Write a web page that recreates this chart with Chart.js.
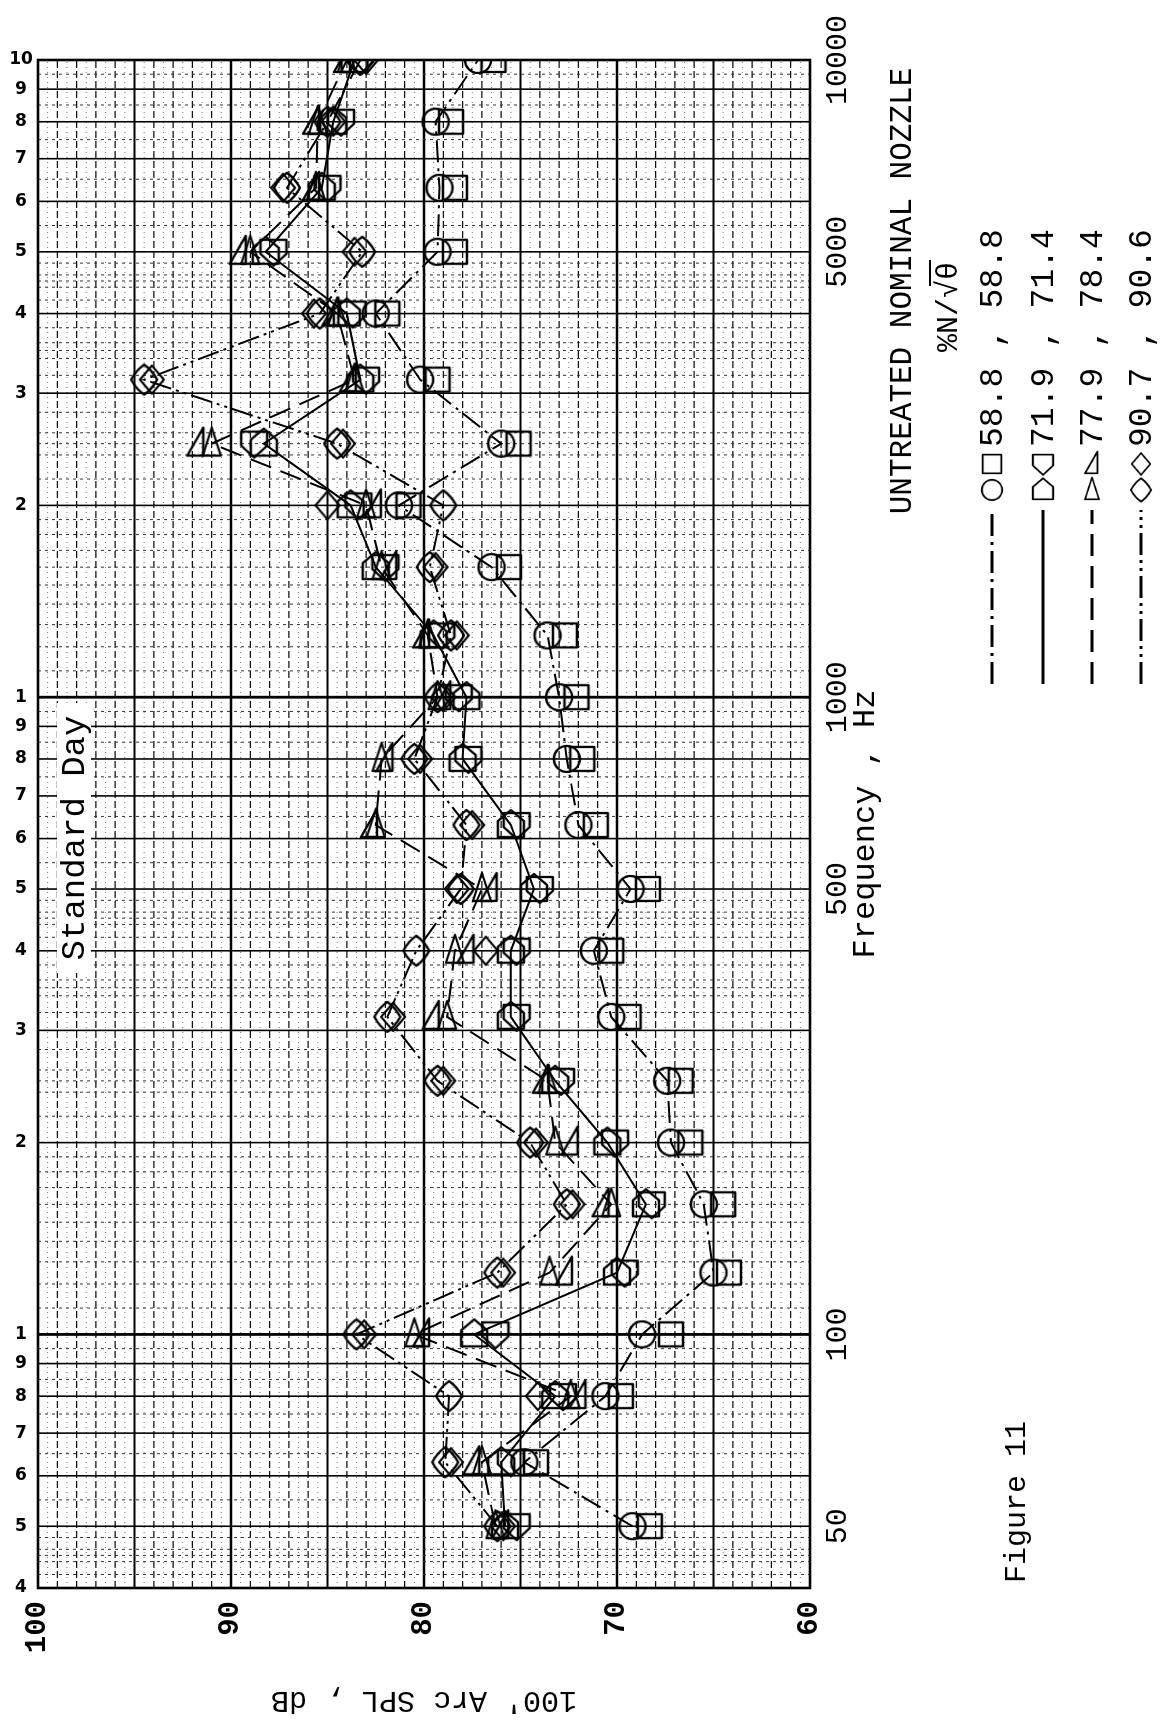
<!DOCTYPE html>
<html><head><meta charset="utf-8">
<script src="https://cdn.jsdelivr.net/npm/chart.js@4/dist/chart.umd.min.js"></script>
<style>
html,body{margin:0;padding:0;background:#fff;width:1171px;height:1724px;overflow:hidden}
#wrap{position:absolute;left:0;top:0;width:1724px;height:1171px;transform-origin:0 0;transform:translate(0px,1724px) rotate(-90deg);background:#fff}
canvas{display:block}
</style></head><body>
<div id="wrap"><canvas id="c" width="1724" height="1171"></canvas></div>
<script>
// ---------- DATA ----------
const freqs = [50,63,80,100,125,160,200,250,315,400,500,630,800,1000,1250,1600,2000,2500,3150,4000,5000,6300,8000,10000];
// first symbol of each pair (line-connected)
const spl_588 = [69.2,74.8,70.6,68.7,65.0,65.5,67.2,67.4,70.3,71.2,69.3,72.0,72.6,73.0,73.6,76.5,81.3,76.0,80.2,82.5,79.3,79.2,79.4,77.2];
const spl_719 = [75.8,76.0,73.2,77.4,70.0,68.5,70.5,73.2,75.5,75.5,74.3,75.5,78.0,77.8,79.5,82.5,83.8,88.3,83.3,84.0,88.2,85.3,84.7,83.6];
const spl_779 = [76.3,77.0,72.4,80.5,73.5,70.3,73.2,73.6,78.8,78.4,77.0,82.5,82.2,79.3,79.8,82.2,83.0,91.0,83.6,84.5,89.0,85.6,85.5,84.0];
const spl_907 = [76.2,78.9,78.7,83.5,76.2,72.6,74.5,79.3,81.9,80.4,78.1,77.8,80.5,79.3,78.6,79.7,79.0,84.5,94.5,85.4,83.2,87.1,85.0,83.3];
// second symbol of each pair
const spl_588b = [68.3,74.2,69.8,67.2,64.2,64.5,66.2,66.7,69.4,70.3,68.4,71.1,71.8,72.1,72.7,75.6,80.8,75.1,79.3,81.9,78.4,78.4,78.6,76.4];
const spl_714 = [75.2,75.5,72.8,76.3,69.6,68.2,70.1,72.9,75.2,75.2,74.0,75.2,77.7,78.2,79.1,82.0,83.4,88.8,83.0,83.7,87.8,85.0,84.3,83.3];
const spl_784 = [76.0,77.5,72.0,80.1,72.7,70.8,72.4,73.9,79.6,77.8,76.6,82.8,82.0,79.0,80.1,81.8,82.6,91.8,83.9,84.8,89.6,85.8,85.8,84.2];
const spl_906 = [75.9,78.6,74.1,83.1,75.9,72.3,74.2,79.0,81.6,76.8,78.3,77.5,80.2,79.0,78.3,79.4,85.0,84.2,94.1,85.7,83.6,87.3,84.7,83.0];

const speedA = ['58.8','71.9','77.9','90.7'];
const speedB = ['58.8','71.4','78.4','90.6'];
const freqTicks = [50,100,500,1000,5000,10000];
const dbTicks = [60,70,80,90,100];
const cycleTickValues = [40,50,60,70,80,90,100,200,300,400,500,600,700,800,900,1000,2000,3000,4000,5000,6000,7000,8000,9000,10000];
const cycleTickLabels = ['4','5','6','7','8','9','1','2','3','4','5','6','7','8','9','1','2','3','4','5','6','7','8','9','10'];

// ---------- STYLE ----------
const MONO = '"Liberation Mono", "DejaVu Sans Mono", monospace';
function mk(kind){
  const S=36, c=document.createElement('canvas'); c.width=S; c.height=S;
  const g=c.getContext('2d'); g.translate(S/2,S/2);
  g.lineWidth=2.3; g.strokeStyle='#000'; g.lineJoin='round';
  // shapes described as seen on the (rotated) page; map to upright canvas
  const P = pts => { g.beginPath(); pts.forEach(([a,b],k)=>{ const ux=-b, uy=a; k?g.lineTo(ux,uy):g.moveTo(ux,uy);}); g.closePath(); g.stroke(); };
  switch(kind){
    case 'circle': g.beginPath(); g.arc(0,0,13,0,2*Math.PI); g.stroke(); break;
    case 'square': P([[-12,-12],[12,-12],[12,12],[-12,12]]); break;
    case 'house': P([[0,-15],[13,-4],[13,12],[-13,12],[-13,-4]]); break;
    case 'shield': P([[-13,-12],[13,-12],[13,2],[0,14],[-13,2]]); break;
    case 'tri': P([[0,-16],[9,12],[-9,12]]); break;
    case 'rtri': P([[7,-16],[7,12],[-9,12]]); break;
    case 'leaf': {
      g.beginPath();
      const pts=[[0,-15],[13,0],[0,15],[-13,0]].map(([a,b])=>[-b,a]);
      g.moveTo(pts[0][0],pts[0][1]);
      for(let k=1;k<=4;k++){const p=pts[k%4], q=pts[k-1]; g.quadraticCurveTo((p[0]+q[0])*0.62,(p[1]+q[1])*0.62,p[0],p[1]);}
      g.closePath(); g.stroke(); break;
    }
    case 'diamond': P([[0,-14],[12,0],[0,14],[-12,0]]); break;
  }
  return c;
}
const markA = [mk('circle'), mk('house'), mk('tri'), mk('leaf')];
const markB = [mk('square'), mk('shield'), mk('rtri'), mk('diamond')];
const dashes = [[22,6,3,6],[],[22,10],[22,5,3,5,3,5]];

const primary = [spl_588, spl_719, spl_779, spl_907];
const secondary = [spl_588b, spl_714, spl_784, spl_906];
const pts = arr => freqs.map((f,i)=>({x:f, y:arr[i]}));

const datasets = [];
for(let i=0;i<4;i++){
  datasets.push({label:speedA[i], data:pts(primary[i]), borderColor:'#000', borderWidth:2, borderDash:dashes[i],
    pointStyle:markA[i], pointRadius:13, backgroundColor:'transparent', fill:false, tension:0, order:2});
  datasets.push({label:speedB[i], data:pts(secondary[i]), showLine:false, borderColor:'#000',
    pointStyle:markB[i], pointRadius:13, backgroundColor:'transparent', order:1});
}

const paper = {
  id:'paper',
  beforeDatasetsDraw(chart){
    const {ctx, chartArea:a, scales:{x,y}} = chart;
    ctx.save();
    ctx.beginPath(); ctx.rect(a.left,a.top,a.right-a.left,a.bottom-a.top); ctx.clip();
    const hl=(v,w,dash,col)=>{const p=y.getPixelForValue(v); ctx.beginPath(); ctx.lineWidth=w; ctx.setLineDash(dash); ctx.strokeStyle=col; ctx.moveTo(a.left,p); ctx.lineTo(a.right,p); ctx.stroke();};
    const vl=(v,w,dash,col)=>{const p=x.getPixelForValue(v); ctx.beginPath(); ctx.lineWidth=w; ctx.setLineDash(dash); ctx.strokeStyle=col; ctx.moveTo(p,a.top); ctx.lineTo(p,a.bottom); ctx.stroke();};
    for(let k=121;k<200;k+=2) hl(k/2, 1, [1,4], '#777');
    for(let k=61;k<100;k++){ if(k%10===0) continue; if(k%5===0) hl(k,1.8,[],'#000'); else hl(k,1.2,[7,3],'#111'); }
    for(const k of [70,80,90]) hl(k,2.4,[],'#000');
    for(const d of [10,100,1000]){
      for(let m=10;m<100;m++){
        const f=d*m/10; if(f<40||f>10000) continue;
        if(m%10===0){ vl(f, m===10?2.8:1.6, [], '#000'); continue; }
        const minor=(m<20)||(m<50&&m%2===0)||(m%5===0);
        if(minor) vl(f,1,[3,4],'#333');
      }
    }
    ctx.restore();
    ctx.save(); ctx.lineWidth=2.6; ctx.strokeStyle='#000'; ctx.setLineDash([]);
    ctx.strokeRect(a.left,a.top,a.right-a.left,a.bottom-a.top);
    // Standard Day label box
    ctx.fillStyle='#fff'; ctx.fillRect(751,57,270,34);
    ctx.fillStyle='#000'; ctx.font='34px '+MONO; ctx.textAlign='center'; ctx.textBaseline='middle';
    ctx.fillText('Standard Day', 886, 75);
    ctx.restore();
  },
  afterDraw(chart){
    const {ctx, scales:{x}} = chart;
    ctx.save();
    // cycle digits of the log paper
    ctx.fillStyle='#000'; ctx.font='bold 17px "DejaVu Sans", sans-serif'; ctx.textAlign='center'; ctx.textBaseline='middle';
    cycleTickValues.forEach((v,i)=>{ const p=x.getPixelForValue(v); ctx.save(); ctx.translate(p, 21); ctx.rotate(Math.PI/2); ctx.fillText(cycleTickLabels[i],0,0); ctx.restore(); });
    // headings
    ctx.font='31px '+MONO; ctx.textAlign='center';
    ctx.fillText('UNTREATED NOMINAL NOZZLE', 1433, 903);
    ctx.font='30px '+MONO;
    const t1='%N/\u221A', t2='\u03B8';
    const w1=ctx.measureText(t1).width, w2=ctx.measureText(t2).width;
    const sx=1417-(w1+w2)/2;
    ctx.textAlign='left'; ctx.fillText(t1, sx, 949); ctx.fillText(t2, sx+w1, 949);
    ctx.lineWidth=2; ctx.beginPath(); ctx.moveTo(sx+w1-6, 930); ctx.lineTo(sx+w1+w2+2, 930); ctx.stroke();
    // legend rows
    const ds = chart.data.datasets;
    const rows=[992,1043,1092,1141];
    for(let i=0;i<4;i++){
      const yy=rows[i];
      ctx.save(); ctx.strokeStyle='#000'; ctx.lineWidth=3; ctx.setLineDash(ds[2*i].borderDash);
      ctx.beginPath(); ctx.moveTo(1040,yy); ctx.lineTo(1214,yy); ctx.stroke(); ctx.restore();
      ctx.drawImage(ds[2*i].pointStyle, 1220, yy-14, 28, 28);
      ctx.drawImage(ds[2*i+1].pointStyle, 1246, yy-14, 28, 28);
      ctx.font='33px '+MONO; ctx.textAlign='left'; ctx.textBaseline='middle';
      ctx.fillText(speedA[i]+' , '+speedB[i], 1277, yy+1);
    }
    ctx.font='30px '+MONO; ctx.textAlign='left';
    ctx.fillText('Figure 11', 141, 1017);
    ctx.restore();
  }
};

new Chart(document.getElementById('c'), {
  type:'line',
  data:{datasets},
  options:{
    responsive:false, animation:false, devicePixelRatio:1, events:[],
    layout:{padding:{left:0,right:60,top:38,bottom:281}},
    plugins:{legend:{display:false}, tooltip:{enabled:false}, title:{display:false}},
    scales:{
      x:{type:'logarithmic', min:40, max:10000,
        afterBuildTicks:s=>{s.ticks=freqTicks.map(v=>({value:v}));},
        afterFit:s=>{s.height=80;},
        grid:{display:false}, border:{display:false},
        ticks:{autoSkip:false, maxRotation:0, minRotation:0, padding:2, color:'#000',
          font:{family:MONO, size:30}, callback:v=>String(v)},
        title:{display:true, text:'Frequency , Hz', color:'#000', font:{family:MONO, size:32}, padding:{top:0,bottom:5}}
      },
      y:{type:'linear', min:60, max:100,
        afterBuildTicks:s=>{s.ticks=dbTicks.map(v=>({value:v}));},
        afterFit:s=>{s.width=136;},
        grid:{display:false}, border:{display:false},
        ticks:{padding:5, color:'#000', font:{family:MONO, size:29, weight:'bold'}, callback:v=>String(v)},
        title:{display:true, text:"100' Arc SPL , dB", color:'#000', font:{family:MONO, size:30}, padding:{top:6,bottom:0}}
      }
    }
  },
  plugins:[paper]
});
</script>
</body></html>
